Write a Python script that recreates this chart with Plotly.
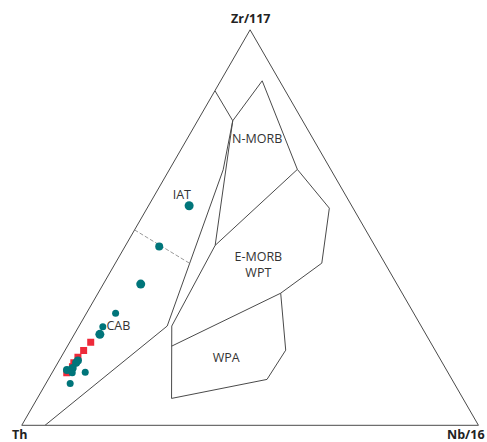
import plotly.graph_objects as go

# Ternary data (percent): a = Zr/117, b = Th, c = Nb/16
circle_a = [55.5, 45.2, 35.7, 28.3, 24.9, 23.0, 16.4, 15.8, 14.5, 14.0, 13.3, 13.4, 10.6]
circle_b = [35.6, 47.3, 56.1, 65.3, 69.8, 71.4, 79.5, 80.2, 81.6, 83.1, 82.3, 79.4, 84.1]
circle_c = [8.9, 7.5, 8.2, 6.4, 5.3, 5.6, 4.1, 4.0, 3.9, 2.9, 4.4, 7.2, 5.3]
circle_size = [9, 8, 9, 7, 7, 9, 8, 8, 8, 8, 7, 7, 7]

square_a = [21.0, 18.9, 17.2, 15.8, 14.8, 13.3]
square_b = [74.4, 77.0, 79.1, 80.7, 81.5, 83.5]
square_c = [4.6, 4.1, 3.7, 3.5, 3.7, 3.2]

# Field boundaries (percent a, b, c)
fields = {
    "iat_top": [(84.6, 15.4, 0.0), (77.0, 15.3, 7.7), (87.1, 3.8, 9.1), (64.7, 7.3, 28.0)],
    "emorb": [(64.7, 7.3, 28.0), (54.9, 5.2, 39.9), (41.0, 13.8, 45.2), (33.4, 26.6, 40.0),
              (20.0, 57.2, 22.8)],
    "nmorb_emorb": [(64.7, 7.3, 28.0), (45.5, 34.9, 19.6), (25.1, 54.6, 20.3), (6.8, 63.8, 29.4),
                    (11.6, 40.5, 47.9), (19.0, 32.7, 48.3), (33.4, 26.6, 40.0)],
    "nmorb_left": [(77.0, 15.3, 7.7), (45.5, 34.9, 19.6)],
    "iat_right": [(77.0, 15.3, 7.7), (64.6, 23.6, 11.8), (25.1, 55.6, 19.3), (0.0, 94.9, 5.1)],
}
dashed = [(49.4, 50.6, 0.0), (41.0, 42.8, 16.2)]

labels = ["N-MORB", "IAT", "E-MORB<br>WPT", "WPA", "CAB"]
label_a = [72.1, 58.1, 40.4, 16.9, 24.9]
label_b = [12.4, 35.9, 28.0, 46.8, 66.4]
label_c = [15.5, 6.0, 31.6, 36.3, 8.7]

vertex_titles = ["Zr/117", "Th", "Nb/16"]

line_col = "#4a4a4a"
teal = "#00757a"
red = "#ee2a3a"

W, H = 487, 442


def px(x):
    return x / W


def py(y):
    return 1 - y / H


fig = go.Figure()
for name, pts in fields.items():
    fig.add_trace(go.Scatterternary(
        a=[p[0] for p in pts], b=[p[1] for p in pts], c=[p[2] for p in pts],
        mode="lines", line=dict(color=line_col, width=1), hoverinfo="skip", showlegend=False))
fig.add_trace(go.Scatterternary(
    a=[p[0] for p in dashed], b=[p[1] for p in dashed], c=[p[2] for p in dashed],
    mode="lines", line=dict(color="#9a9a9a", width=1, dash="4px,2px"), hoverinfo="skip",
    showlegend=False))

fig.add_trace(go.Scatterternary(
    a=label_a, b=label_b, c=label_c, mode="text", text=labels,
    textfont=dict(family="Open Sans", size=12.5, color="#333333"), hoverinfo="skip",
    showlegend=False))

fig.add_trace(go.Scatterternary(
    a=square_a, b=square_b, c=square_c, mode="markers",
    marker=dict(symbol="square", size=7, color=red, opacity=1, line=dict(width=0)),
    showlegend=False))
fig.add_trace(go.Scatterternary(
    a=circle_a, b=circle_b, c=circle_c, mode="markers",
    marker=dict(symbol="circle", size=circle_size, color=teal, opacity=1, line=dict(width=0)),
    showlegend=False))

axis_common = dict(showticklabels=False, ticks="", showgrid=False, linecolor=line_col,
                   linewidth=1, min=0, title=dict(text=""))
title_font = dict(family="Open Sans", size=12.5, color="#222222", weight="bold")
fig.update_layout(
    width=W, height=H,
    margin=dict(l=0, r=0, t=0, b=0, autoexpand=False),
    paper_bgcolor="white",
    ternary=dict(
        sum=100,
        bgcolor="white",
        domain=dict(x=[px(21.5), px(478.7)], y=[py(425.3), py(29.8)]),
        aaxis=axis_common, baxis=axis_common, caxis=axis_common,
    ),
    showlegend=False,
    annotations=[
        dict(text=vertex_titles[0], x=px(250.5), y=py(18.7), xref="paper", yref="paper",
             xanchor="center", yanchor="middle", showarrow=False, font=title_font),
        dict(text=vertex_titles[1], x=px(19.5), y=py(434.5), xref="paper", yref="paper",
             xanchor="center", yanchor="middle", showarrow=False, font=title_font),
        dict(text=vertex_titles[2], x=px(465.5), y=py(434.5), xref="paper", yref="paper",
             xanchor="center", yanchor="middle", showarrow=False, font=title_font),
    ],
)
fig.write_html(
    "out.html",
    config={"displayModeBar": False},
    post_script="document.body.style.margin='0';document.body.style.overflow='hidden';",
)
